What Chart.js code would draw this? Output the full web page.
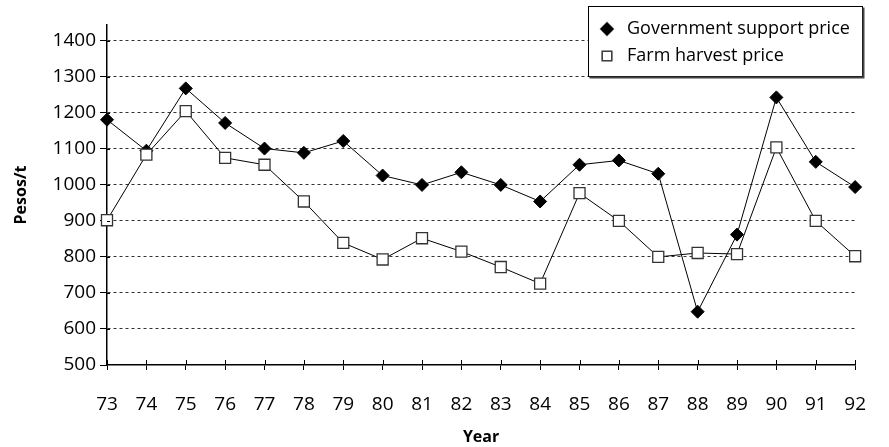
<!DOCTYPE html>
<html>
<head>
<meta charset="utf-8">
<script src="https://cdn.jsdelivr.net/npm/chart.js@4/dist/chart.umd.min.js"></script>
<style>
  html, body { margin: 0; padding: 0; background: #fff; }
  canvas { display: block; }
</style>
</head>
<body>
<canvas id="myChart" width="889" height="447"></canvas>
<script>
// years on the x axis
const years = ['73','74','75','76','77','78','79','80','81','82','83','84','85','86','87','88','89','90','91','92'];

// pesos per tonne
const govtSupport = [1181, 1095, 1268, 1172, 1101, 1089, 1122, 1026, 1000, 1035, 1000, 954, 1056, 1068, 1031, 648, 862, 1243, 1064, 994];
const farmHarvest = [902, 1084, 1205, 1075, 1056, 954, 839, 793, 852, 815, 772, 726, 977, 900, 800, 811, 808, 1104, 900, 802];

// y tick labels
const yTicks = [500, 600, 700, 800, 900, 1000, 1100, 1200, 1300, 1400];

const fontName = '"Open Sans", "Noto Sans", sans-serif';

// small inside ticks + the boxed legend
const extras = {
  id: 'extras',
  afterDraw(chart) {
    const ctx = chart.ctx;
    const x = chart.scales.x, y = chart.scales.y;
    ctx.save();
    ctx.strokeStyle = '#000';
    ctx.lineWidth = 1;
    ctx.beginPath();
    x.ticks.forEach((t, i) => {
      const px = Math.round(x.getPixelForTick(i)) + 0.5;
      ctx.moveTo(px, x.top - 5);
      ctx.lineTo(px, x.top);
    });
    y.ticks.forEach((t, i) => {
      if (t.value === 500) return;
      const py = Math.round(y.getPixelForTick(i)) + 0.5;
      ctx.moveTo(y.right, py);
      ctx.lineTo(y.right + 3, py);
    });
    ctx.stroke();

    // legend box
    const bx = 588.5, by = 6.5, bw = 274, bh = 70;
    ctx.fillStyle = '#fff';
    ctx.fillRect(bx, by, bw, bh);
    ctx.strokeStyle = '#000';
    ctx.strokeRect(bx, by, bw, bh);
    ctx.lineWidth = 2;
    ctx.strokeStyle = '#444';
    ctx.beginPath();
    ctx.moveTo(bx + 1, by + bh + 1);
    ctx.lineTo(bx + bw + 1, by + bh + 1);
    ctx.lineTo(bx + bw + 1, by + 1);
    ctx.stroke();

    ctx.font = '18px ' + fontName;
    ctx.textBaseline = 'middle';
    ctx.textAlign = 'left';
    ctx.fillStyle = '#000';
    const order = [1, 0];
    order.forEach((di, row) => {
      const ds = chart.data.datasets[di];
      const cy = 29 + row * 27;
      Chart.helpers.drawPoint(ctx, {
        pointStyle: ds.pointStyle,
        radius: ds.pointStyle === 'rectRot' ? 6 : 6.5,
        borderWidth: 1,
        rotation: 0
      }, 607, cy);
      ctx.save();
      ctx.fillStyle = ds.pointBackgroundColor;
      ctx.strokeStyle = ds.pointBorderColor;
      ctx.lineWidth = 1;
      ctx.fill();
      ctx.stroke();
      ctx.restore();
      ctx.fillText(ds.label, 627, cy);
    });
    ctx.restore();
  }
};

new Chart(document.getElementById('myChart'), {
  type: 'line',
  data: {
    labels: years,
    datasets: [
      {
        label: 'Farm harvest price',
        data: farmHarvest,
        borderColor: '#000',
        borderWidth: 1,
        pointStyle: 'rect',
        pointRadius: 7.8,
        pointBackgroundColor: '#fff',
        pointBorderColor: '#333',
        pointBorderWidth: 1.3
      },
      {
        label: 'Government support price',
        data: govtSupport,
        borderColor: '#000',
        borderWidth: 1,
        pointStyle: 'rectRot',
        pointRadius: 6.5,
        pointBackgroundColor: '#000',
        pointBorderColor: '#000',
        pointBorderWidth: 1
      }
    ]
  },
  options: {
    responsive: false,
    animation: false,
    devicePixelRatio: 1,
    layout: { padding: { top: 25, right: 11, left: 0, bottom: 0 } },
    plugins: {
      legend: { display: false },
      tooltip: { enabled: false }
    },
    scales: {
      x: {
        afterFit: s => { s.height = 82; },
        grid: { drawOnChartArea: false, drawTicks: true, tickLength: 5, color: '#000' },
        border: { color: '#000', width: 1.5 },
        ticks: {
          color: '#000', autoSkip: false, maxRotation: 0, padding: 23,
          font: { family: fontName, size: 19 }
        },
        title: {
          display: true, text: 'Year', color: '#000',
          font: { family: fontName, size: 16, weight: 'bold' },
          padding: { top: 0, bottom: 0 }
        }
      },
      y: {
        min: 500,
        max: 1444,
        afterFit: s => { s.width = 107; },
        afterBuildTicks: s => { s.ticks = yTicks.map(v => ({ value: v })); },
        grid: {
          color: c => (c.tick && c.tick.value === 500) ? 'rgba(0,0,0,0)' : '#333',
          tickColor: '#000',
          tickLength: 7,
          lineWidth: 1
        },
        border: { color: '#000', width: 1.5, dash: [3, 3] },
        ticks: {
          color: '#000', padding: 4,
          callback: v => String(v),
          font: { family: fontName, size: 19 }
        },
        title: {
          display: true, text: 'Pesos/t', color: '#000',
          font: { family: fontName, size: 16, weight: 'bold' },
          padding: { top: 12, bottom: 0 }
        }
      }
    }
  },
  plugins: [extras]
});
</script>
</body>
</html>
